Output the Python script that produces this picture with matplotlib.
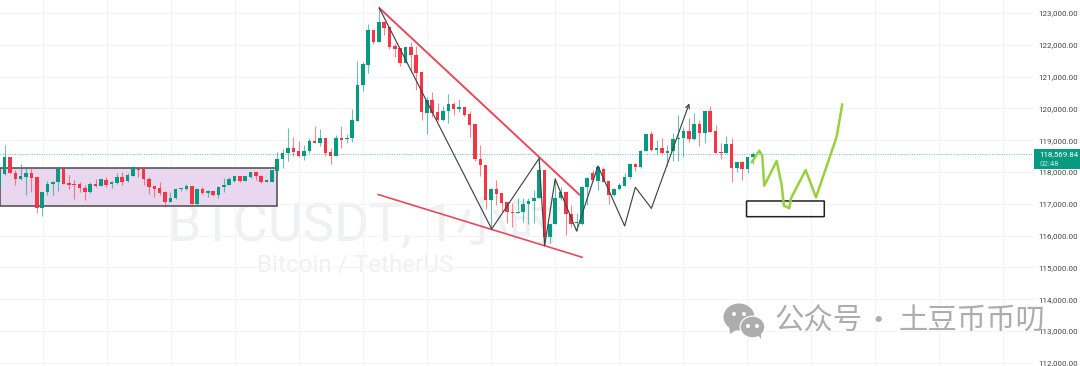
#!/usr/bin/env python3
"""BTCUSDT 1h candles with hand drawn trend lines and projected path."""

import matplotlib
matplotlib.use("Agg")
import matplotlib.pyplot as plt
from matplotlib.patches import Ellipse, FancyBboxPatch, Polygon, Rectangle

plt.rcParams["font.family"] = ["Roboto", "Noto Sans CJK SC", "DejaVu Sans"]

opens = [117490, 117940, 118460, 117960, 117780, 117850, 117980, 117850, 116860, 117380,
         117610, 117670, 118090, 117640, 117620, 117610, 117500, 117360, 117620, 117570,
         117760, 117620, 117640, 117830, 117710, 117880, 118140, 118080, 117790, 117560,
         117490, 117380, 117050, 117170, 117450, 117470, 117550, 116980, 117480, 117350,
         117400, 117280, 117530, 117590, 117710, 117860, 117730, 117830, 117990, 117880,
         117700, 117700, 118030, 118400, 118590, 118760, 118660, 118500, 118660, 118980,
         118910, 119060, 118630, 118500, 119080, 119040, 119060, 119600, 120720, 121370,
         122450, 122100, 122720, 122550, 121950, 121900, 121420, 121920, 121680, 121150,
         119850, 120270, 119900, 119620, 119910, 120150, 119990, 120050, 119830, 119500,
         118410, 118230, 117120, 117470, 117330, 117050, 116750, 116720, 116730, 116980,
         117100, 117170, 118060, 115950, 116360, 117170, 117360, 116680, 116390, 116370,
         117540, 117960, 117730, 118090, 117710, 117280, 117460, 117570, 117830, 118250,
         118150, 118670, 119190, 118700, 118760, 118590, 118660, 119030, 119060, 119280,
         119040, 119510, 119220, 119910, 119280, 118630, 118590, 118880, 118120, 118320,
         118100, 118470]
highs = [118170, 118850, 118470, 118060, 118250, 118170, 118150, 117850, 117380, 117730,
         117730, 118120, 118100, 117910, 117750, 117670, 117590, 117670, 117770, 117790,
         117830, 117720, 117960, 118010, 117960, 118190, 118150, 118120, 117830, 117560,
         117700, 117410, 117380, 117490, 117490, 117610, 117560, 117490, 117540, 117430,
         117410, 117560, 117800, 117830, 117870, 117870, 117880, 118010, 118010, 117900,
         117770, 118060, 118620, 118730, 119370, 119110, 118970, 118840, 119060, 119460,
         119340, 119060, 118750, 119170, 119460, 119180, 119990, 121490, 121470, 122650,
         122460, 123200, 122760, 122570, 122070, 121910, 121920, 122100, 121960, 121150,
         120370, 120510, 120160, 120080, 120440, 120200, 120300, 120050, 119920, 119500,
         118850, 118230, 117490, 117750, 117330, 117070, 117020, 117190, 117190, 117170,
         117440, 118380, 118060, 116360, 117800, 117540, 117360, 116960, 116720, 117560,
         117830, 118060, 118220, 118150, 117730, 117490, 117650, 117960, 118270, 118270,
         118690, 119190, 119300, 119010, 119060, 118850, 119240, 119790, 119430, 119690,
         119870, 119640, 119930, 120060, 119480, 118900, 119130, 119060, 118320, 118330,
         118480, 118640]
lows = [117380, 117910, 117960, 117590, 117750, 117280, 117380, 116720, 116600, 117280,
        117280, 117410, 117620, 117470, 117140, 117380, 117120, 117350, 117540, 117560,
        117540, 117490, 117620, 117590, 117700, 117870, 117850, 117590, 117310, 117200,
        117280, 116890, 117050, 117160, 117410, 117430, 116980, 116960, 117310, 117200,
        117230, 117190, 117380, 117580, 117690, 117690, 117720, 117820, 117750, 117640,
        117690, 117690, 118010, 118140, 118350, 118510, 118480, 118380, 118590, 118900,
        118820, 118510, 118240, 118500, 118750, 118900, 118950, 119600, 120550, 121120,
        122030, 122100, 122300, 121870, 121630, 121340, 121420, 121160, 120580, 119620,
        119190, 119740, 119590, 119590, 119530, 119790, 119900, 119760, 119110, 118360,
        117860, 116830, 116180, 116960, 116750, 116410, 116280, 116700, 116420, 116360,
        116410, 117170, 115710, 115760, 116360, 117120, 116020, 116280, 116130, 116340,
        116960, 117730, 117440, 117680, 117000, 117250, 117440, 117560, 117770, 118040,
        118110, 118650, 118670, 118570, 118570, 118190, 118330, 118330, 118480, 118950,
        119010, 118830, 118920, 119250, 118590, 118410, 118590, 117680, 118010, 117750,
        117960, 118240]
closes = [117960, 118460, 117960, 117780, 117870, 117980, 117820, 116860, 117380, 117620,
          117700, 118090, 117620, 117590, 117590, 117490, 117360, 117620, 117560, 117770,
          117590, 117670, 117830, 117700, 117910, 118150, 118060, 117770, 117540, 117470,
          117350, 117050, 117170, 117470, 117490, 117550, 116980, 117480, 117340, 117400,
          117280, 117540, 117600, 117770, 117870, 117710, 117870, 118000, 117870, 117700,
          117750, 118050, 118410, 118590, 118760, 118630, 118500, 118670, 118980, 118910,
          119070, 118610, 118500, 119080, 119020, 119080, 119630, 120740, 121400, 122450,
          122100, 122720, 122530, 121930, 121870, 121420, 121920, 121680, 121120, 119880,
          120270, 119870, 119620, 119920, 120150, 119990, 120050, 119800, 119480, 118400,
          118220, 117120, 117470, 117310, 117040, 116730, 116720, 116750, 116980, 117100,
          117180, 118060, 115950, 116360, 117170, 117360, 116680, 116370, 116440, 117540,
          117800, 117750, 118150, 117700, 117280, 117470, 117580, 117830, 118250, 118150,
          118670, 119190, 118690, 118750, 118590, 118670, 119040, 119080, 119290, 119040,
          119510, 119220, 119910, 119270, 118600, 118610, 118880, 118120, 118320, 118100,
          118470, 118570]

last_price = 118569.84
price_ticks = [112000, 113000, 114000, 115000, 116000, 117000, 118000, 119000,
               120000, 121000, 122000, 123000]

# drawings, candle index against price
box_idx = [0.1, 52.0]
box_price = [116915, 118125]
target_idx = [139.8, 154.35]
target_price = [116594, 117088]
upper_idx = [71.1, 108.6]
upper_price = [123157, 117276]
lower_idx = [70.85, 109.07]
lower_price = [117292, 115317]
zigzag_idx = [71.09, 92.12, 101.0, 102.03, 104.0, 108.0, 112.0, 117.0, 119.0, 122.0]
zigzag_price = [123157, 116207, 118430, 115682, 117779, 116144, 118188, 116301, 117518, 116858]
arrow_tip = (129.1, 120160)
path_idx = [140.76, 142.18, 142.74, 143.12, 145.44, 146.37, 146.8, 147.8, 148.12,
            150.86, 152.8, 156.03, 156.66, 157.71]
path_price = [118305, 118670, 118512, 117569, 118346, 117591, 116940, 116858, 117172,
              118062, 117204, 118795, 119110, 120129]

GREEN = "#089981"
RED = "#F23645"
W, H = 1080, 366

fig = plt.figure(figsize=(W / 100, H / 100), dpi=100, facecolor="white")
ax = fig.add_axes([0, 0, 1033 / W, 1])
ax.set_xlim(0.125, 193.4)
ax.set_ylim(111898, 123409)
for s in ax.spines.values():
    s.set_visible(False)

ax.set_xticks([8.17 + 11.975 * k for k in range(16)])
ax.set_xticklabels([])
ax.set_yticks(price_ticks)
ax.set_yticklabels([f"{p:,.2f}" for p in price_ticks], fontsize=5.7, color="#444444")
ax.yaxis.tick_right()
ax.tick_params(axis="both", length=0)
ax.tick_params(axis="y", pad=4.0)
ax.grid(True, color="#F4F5F7", lw=0.8)
ax.set_axisbelow(True)

# pale symbol watermark
ax.text(31.5, 115814, "BTCUSDT, 1小时", fontsize=38.5, color="#EEF0F2", va="baseline", ha="left", zorder=0.5)
ax.text(48.2, 114864, "Bitcoin / TetherUS", fontsize=17.5, color="#EEF0F2", va="baseline", ha="left", zorder=0.5)

ax.add_patch(Rectangle((box_idx[0], box_price[0]), box_idx[1] - box_idx[0], box_price[1] - box_price[0],
                       facecolor="#E9D6EF", edgecolor="#4A4A4A", lw=1.1, zorder=1))
ax.axhline(last_price, color="#6BBBAE", lw=0.7, ls=(0, (1, 1.5)), zorder=1.5)

idx = list(range(len(opens)))
colors = [GREEN if c >= o else RED for o, c in zip(opens, closes)]
ax.vlines(idx, lows, highs, colors=colors, lw=0.8, alpha=0.6, zorder=2)
bottoms = [min(o, c) for o, c in zip(opens, closes)]
heights = [max(abs(c - o), 30) for o, c in zip(opens, closes)]
ax.bar(idx, heights, bottom=bottoms, width=0.66, color=colors, lw=0, zorder=3)

ax.plot(upper_idx, upper_price, color="#E8495C", lw=1.4, zorder=4, solid_capstyle="round")
ax.plot(lower_idx, lower_price, color="#E8495C", lw=1.2, zorder=4, solid_capstyle="round")
ax.plot(zigzag_idx, zigzag_price, color="#444444", lw=0.85, zorder=4)
ax.annotate("", xy=arrow_tip, xytext=(zigzag_idx[-1], zigzag_price[-1]), zorder=4,
            arrowprops=dict(arrowstyle="->", color="#444444", lw=0.85, mutation_scale=7,
                            shrinkA=0, shrinkB=0))
ax.add_patch(FancyBboxPatch((target_idx[0], target_price[0]), target_idx[1] - target_idx[0],
                            target_price[1] - target_price[0], boxstyle="round,pad=0,rounding_size=0.2",
                            mutation_aspect=50, facecolor="none", edgecolor="#222222", lw=1.1, zorder=4))
ax.plot(path_idx, path_price, color="#98D13E", lw=1.8, zorder=5,
        solid_capstyle="round", solid_joinstyle="round")

# overlay in pixels: price tag and the account watermark
ov = fig.add_axes([0, 0, 1, 1], zorder=5)
ov.set_xlim(0, W)
ov.set_ylim(H, 0)
ov.axis("off")
ov.patch.set_alpha(0)

ov.add_patch(Rectangle((1034, 149), 46, 20, facecolor=GREEN, edgecolor="none", zorder=3))
ov.text(1039, 154.5, f"{last_price:,.2f}", color="white", fontsize=5.7, va="center", ha="left", zorder=4)
ov.text(1039, 163.5, "02:48", color="#BFE6DC", fontsize=5.7, va="center", ha="left", zorder=4)

GRAY = "#ADADAD"
ov.add_patch(Ellipse((739, 317), 31, 27, facecolor=GRAY, edgecolor="none", zorder=3))
ov.add_patch(Polygon([(729, 325), (730, 334), (738, 329)], facecolor=GRAY, edgecolor="none", zorder=3))
ov.add_patch(Ellipse((752.5, 327), 26, 23, facecolor="white", edgecolor="none", zorder=4))
ov.add_patch(Ellipse((752.5, 327), 23.5, 20.5, facecolor=GRAY, edgecolor="none", zorder=5))
ov.add_patch(Polygon([(757, 334), (761, 339), (761, 331)], facecolor=GRAY, edgecolor="none", zorder=5))
for ex, ey, z in [(734, 314, 4), (744, 314, 4), (748, 326, 6), (757, 326, 6)]:
    ov.add_patch(Ellipse((ex, ey), 4, 4, facecolor="white", edgecolor="none", zorder=z))
cjk = ["Noto Sans CJK SC", "DejaVu Sans"]
ov.text(775, 321.5, "公众号", color=GRAY, fontsize=21.2, va="center", ha="left", zorder=6, family=cjk)
ov.text(878, 321.5, "·", color=GRAY, fontsize=21.2, va="center", ha="center", zorder=6, family=cjk)
ov.text(898, 321.5, "土豆币币叨", color=GRAY, fontsize=21.2, va="center", ha="left", zorder=6, family=cjk)

fig.savefig("out.png", dpi=100)
